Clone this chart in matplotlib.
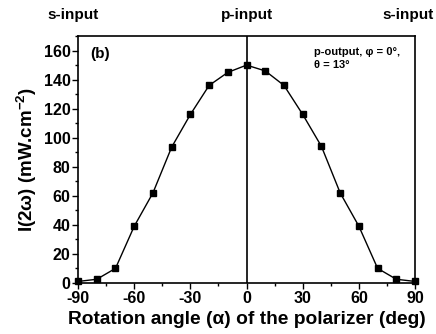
import matplotlib
matplotlib.use("Agg")
import matplotlib.pyplot as plt
from matplotlib.ticker import MultipleLocator

plt.rcParams['font.family'] = ['Liberation Sans', 'DejaVu Sans']
plt.rcParams['font.weight'] = 'bold'
plt.rcParams['axes.unicode_minus'] = False
plt.rcParams['mathtext.fontset'] = 'custom'
plt.rcParams['mathtext.rm'] = 'Liberation Sans:bold'
plt.rcParams['mathtext.default'] = 'regular'

angle = [-90, -80, -70, -60, -50, -40, -30, -20, -10, 0,
         10, 20, 30, 40, 50, 60, 70, 80, 90]
intensity = [1, 2.5, 10, 39, 62, 93.5, 116, 136, 145, 150,
             146, 136, 116, 94, 62, 39, 10, 2.5, 1]
xticks = [-90, -60, -30, 0, 30, 60, 90]
yticks = [0, 20, 40, 60, 80, 100, 120, 140, 160]
top_labels = ['s-input', 'p-input', 's-input']
top_label_pos = [-92.5, 0, 86]

fig = plt.figure(figsize=(4.36, 3.34), dpi=100)
ax = fig.add_axes([0.179, 0.153, 0.773, 0.739])

ax.plot(angle, intensity, color='black', lw=1.0, marker='s', ms=4.5,
        mfc='black', mec='black', clip_on=False, zorder=3)
ax.axvline(0, color='black', lw=1.2)

ax.set_xlim(-90, 90)
ax.set_ylim(0, 170)
ax.set_xticks(xticks)
ax.set_yticks(yticks)
ax.xaxis.set_minor_locator(MultipleLocator(15))
ax.yaxis.set_minor_locator(MultipleLocator(10))
ax.tick_params(which='major', direction='out', length=4, width=1, labelsize=11.5, pad=1.5)
ax.tick_params(which='minor', direction='out', length=2.5, width=1)
for lab in ax.get_xticklabels() + ax.get_yticklabels():
    lab.set_fontweight('bold')
for s in ax.spines.values():
    s.set_linewidth(1.2)

ax.set_xlabel('Rotation angle (α) of the polarizer (deg)', fontsize=13.8,
              fontweight='bold', labelpad=4)
ax.set_ylabel('I(2ω) (mW.cm$^{-2}$)', fontsize=13.5, fontweight='bold', labelpad=3)

for lbl, xp in zip(top_labels, top_label_pos):
    ax.text(xp, 1.085, lbl, transform=ax.get_xaxis_transform(), ha='center', va='center',
            fontsize=11, fontweight='bold')

ax.text(0.035, 0.955, '(b)', transform=ax.transAxes, ha='left', va='top',
        fontsize=11, fontweight='bold')
ax.text(0.7, 0.955, 'p-output, φ = 0°,\nθ = 13°', transform=ax.transAxes,
        ha='left', va='top', fontsize=8, fontweight='bold', linespacing=1.3)

fig.savefig('out.png', dpi=100)
